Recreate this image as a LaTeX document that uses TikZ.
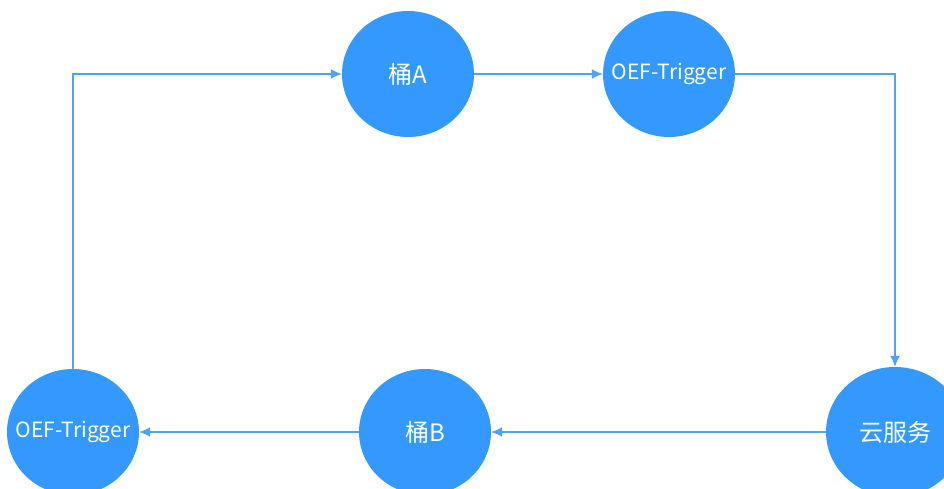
\documentclass[tikz,border=0pt]{standalone}
\usepackage{fontspec}
\setmainfont{Noto Sans CJK SC}
\usetikzlibrary{arrows.meta,shapes.geometric}
\definecolor{nodeblue}{RGB}{51,153,255}
\definecolor{lineblue}{RGB}{77,163,255}
\tikzset{
	bubble/.style={ellipse, fill=nodeblue, inner sep=0pt,
		minimum width=132pt, minimum height=126pt,
		label={[text=white, font=\fontsize{24}{28}\selectfont]center:#1}},
	trigger/.style={ellipse, fill=nodeblue, inner sep=0pt,
		minimum width=132pt, minimum height=126pt,
		label={[text=white, font=\fontsize{21}{24}\selectfont]center:#1}},
	flow/.style={draw=lineblue, line width=1.4pt, -{Latex[length=11pt,width=10pt]}}
}

\begin{document}
\begin{tikzpicture}[x=1pt,y=-1pt]
			%%%%% START %%%%%
			\useasboundingbox (0,0) rectangle (944,489);
			
			\node[bubble=桶A] (bucketA) at (408, 74) {};
			\node[trigger=OEF-Trigger] (trigA) at (669, 74) {};
			
			\node[bubble=云服务, minimum width=138pt, minimum height=130pt] (cloud) at (895, 432) {};
			\node[bubble=桶B] (bucketB) at (425, 432) {};
			\node[trigger=OEF-Trigger] (trigB) at (73, 432) {};
			
			\draw[flow] (bucketA) -- (trigA);
			\draw[flow] (trigA.east) -| (cloud.north);
			\draw[flow] (cloud) -- (bucketB);
			\draw[flow] (bucketB) -- (trigB);
			\draw[flow] (trigB.north) |- (bucketA.west);
			%%%%% END %%%%%
		\end{tikzpicture}
\end{document}
